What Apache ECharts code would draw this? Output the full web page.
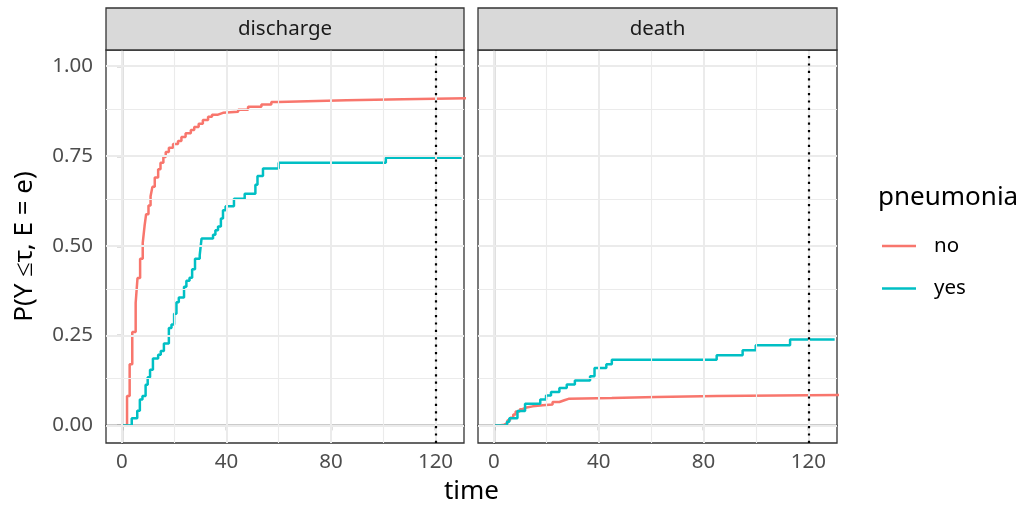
<!DOCTYPE html>
<html>
<head>
<meta charset="utf-8">
<script src="https://cdn.jsdelivr.net/npm/echarts@6/dist/echarts.min.js"></script>
<style>html,body{margin:0;padding:0;background:#fff}#c{width:1024px;height:508px}</style>
</head>
<body>
<div id="c"></div>
<script>
// ---- data ----
const panels = ['discharge', 'death'];
const groups = ['no', 'yes'];
const xTicks = [0, 40, 80, 120];
const xMinorGrid = [20, 60, 100];
const yTicks = [0, 0.25, 0.5, 0.75, 1.0];
const yMinorGrid = [0.125, 0.375, 0.625, 0.875];
const horizon = 120;

const dischargeNo = [[0,0],[2,0.082],[3,0.170],[4,0.26],[5.3,0.341],[6,0.41],[7,0.464],[8,0.508],[8.7,0.555],[9.3,0.588],[10.2,0.612],[11,0.638],[11.7,0.664],[12.6,0.69],[13.9,0.713],[14.8,0.731],[15.9,0.747],[16.8,0.761],[18,0.773],[19.6,0.783],[21.5,0.792],[22.8,0.803],[24.4,0.813],[26.4,0.822],[27.7,0.831],[29.4,0.840],[31,0.850],[33,0.859],[34.5,0.865],[36.8,0.870],[38.7,0.873],[44.5,0.879],[48.3,0.887],[53.4,0.893],[57.2,0.900],[59.8,0.905],[86,0.908],[107.6,0.911],[135,0.911]];
const dischargeYes = [[0,0],[3.8,0.020],[5.9,0.041],[6.9,0.072],[7.9,0.082],[9.1,0.113],[9.9,0.134],[10.8,0.155],[11.9,0.186],[13.9,0.197],[14.9,0.207],[16.1,0.228],[18,0.271],[19,0.281],[20,0.311],[20.9,0.343],[21.8,0.356],[23.8,0.386],[24.7,0.403],[25.9,0.411],[26.9,0.435],[28,0.464],[29.8,0.474],[30.5,0.52],[34.9,0.531],[35.8,0.543],[36.8,0.554],[37.9,0.576],[38.7,0.599],[39.7,0.610],[42.9,0.631],[47,0.645],[51.1,0.670],[51.9,0.694],[54,0.715],[60,0.731],[101,0.745],[130,0.745]];
const deathNo = [[0,0],[2.0,0.002],[3.9,0.006],[5.2,0.014],[6.2,0.021],[7.4,0.030],[8.3,0.039],[9.9,0.045],[10.9,0.050],[12.5,0.053],[14.8,0.056],[18.6,0.058],[22.4,0.065],[25,0.070],[26.9,0.074],[28.5,0.076],[45,0.079],[62,0.082],[85,0.085],[135,0.085]];
const deathYes = [[0,0],[5.0,0.010],[5.9,0.020],[9.0,0.040],[11.9,0.060],[17.7,0.072],[19.9,0.083],[21.8,0.093],[25,0.104],[27.8,0.114],[30.9,0.125],[36.7,0.137],[38.4,0.160],[42.9,0.170],[45,0.183],[85,0.195],[94.9,0.209],[99.9,0.223],[113,0.239],[130,0.239]];

const seriesData = [[dischargeNo, dischargeYes], [deathNo, deathYes]];
const colors = ['#F8766D', '#00BFC4'];

// ---- layout ----
const FONT = 'Noto Sans';
const SMALL = 20.5, BIG = 26;
const gridsPos = [{left:106, top:50, width:358, height:393}, {left:478, top:50, width:359, height:393}];
const X_MIN = -6.05, X_MAX = 130.9, Y_MIN = -0.049, Y_MAX = 1.045;

const grids = gridsPos.map(g => ({left:g.left, top:g.top, width:g.width, height:g.height, show:true, borderColor:'#333333', borderWidth:1.3, backgroundColor:'#fff', containLabel:false}));

const xAxes = gridsPos.map((g, i) => ({
  type:'value', gridIndex:i, min:X_MIN, max:X_MAX,
  axisLine:{show:true, lineStyle:{color:'#333333', width:1.3}},
  axisTick:{show:true, customValues:xTicks, length:5, lineStyle:{color:'#333333', width:1.3}},
  axisLabel:{show:true, customValues:xTicks, margin:9, color:'#4D4D4D', fontSize:SMALL, fontFamily:FONT},
  splitLine:{show:false}, minorSplitLine:{show:false}
}));
const yAxes = gridsPos.map((g, i) => ({
  type:'value', gridIndex:i, min:Y_MIN, max:Y_MAX,
  axisLine:{show:true, lineStyle:{color:'#333333', width:1.3}},
  axisTick:{show:i===0, customValues:yTicks, length:5, lineStyle:{color:'#333333', width:1.3}},
  axisLabel:{show:i===0, customValues:yTicks, margin:13, color:'#4D4D4D', fontSize:SMALL, fontFamily:FONT,
    formatter: v => v.toFixed(2)},
  splitLine:{show:false}, minorSplitLine:{show:false}
}));

const series = [];
panels.forEach((p, i) => {
  const ml = [];
  xMinorGrid.forEach(v => ml.push({xAxis:v, lineStyle:{color:'#EBEBEB', width:1.1, type:'solid'}}));
  yMinorGrid.forEach(v => ml.push({yAxis:v, lineStyle:{color:'#EBEBEB', width:1.1, type:'solid'}}));
  xTicks.forEach(v => ml.push({xAxis:v, lineStyle:{color:'#EBEBEB', width:2, type:'solid'}}));
  yTicks.forEach(v => ml.push({yAxis:v, lineStyle:{color:'#EBEBEB', width:2, type:'solid'}}));
  series.push({
    name:'grid' + i, type:'line', xAxisIndex:i, yAxisIndex:i, z:1, silent:true,
    data:[[0,0]], showSymbol:false, symbol:'none', lineStyle:{opacity:0},
    markLine:{silent:true, symbol:['none','none'], label:{show:false}, animation:false, data:ml}
  });
  groups.forEach((gname, k) => {
    series.push({
      name:gname, type:'line', xAxisIndex:i, yAxisIndex:i, z:3, step:'end',
      data:seriesData[i][k], showSymbol:false, symbol:'none', clip:true,
      lineStyle:{color:colors[k], width:2.5}, itemStyle:{color:colors[k]}
    });
  });
  series.push({
    name:'vline' + i, type:'line', xAxisIndex:i, yAxisIndex:i, z:5, silent:true,
    data:[[0,0]], showSymbol:false, symbol:'none', lineStyle:{opacity:0},
    markLine:{silent:true, symbol:['none','none'], label:{show:false}, animation:false,
      data:[{xAxis:horizon, lineStyle:{color:'#000', width:2.2, type:[2.2,5.2]}}]}
  });
});

const graphic = [];
panels.forEach((p, i) => {
  const g = gridsPos[i];
  graphic.push({type:'rect', shape:{x:g.left, y:8, width:g.width, height:42}, style:{fill:'#D9D9D9', stroke:'#333333', lineWidth:1.3}, z:10});
  graphic.push({type:'text', x:g.left + g.width/2, y:29, z:11, style:{text:p, fill:'#1A1A1A', fontSize:SMALL, fontFamily:FONT, textAlign:'center', textVerticalAlign:'middle'}});
});
graphic.push({type:'text', x:471.5, y:492, style:{text:'time', fill:'#000', fontSize:BIG, fontFamily:FONT, textAlign:'center', textVerticalAlign:'middle'}});
graphic.push({type:'text', x:24.5, y:246.5, rotation:Math.PI/2, style:{text:'P(Y ≤τ, E = e)', fill:'#000', fontSize:BIG, fontFamily:FONT, textAlign:'center', textVerticalAlign:'middle'}});
graphic.push({type:'text', x:878, y:198, style:{text:'pneumonia', fill:'#000', fontSize:BIG, fontFamily:FONT, textAlign:'left', textVerticalAlign:'middle'}});

const option = {
  animation:false,
  backgroundColor:'#fff',
  grid:grids, xAxis:xAxes, yAxis:yAxes, series:series, graphic:graphic,
  legend:{
    show:true, orient:'vertical', left:882, top:234, padding:0,
    data:groups.map(n => ({name:n, icon:'rect'})),
    itemWidth:34, itemHeight:2.4, itemGap:18.5,
    textStyle:{color:'#000', fontSize:SMALL, fontFamily:FONT, lineHeight:24, padding:[0,0,0,13]},
    selectedMode:false
  }
};
const chart = echarts.init(document.getElementById('c'), null, {renderer:'canvas'});
chart.setOption(option);
</script>
</body>
</html>
